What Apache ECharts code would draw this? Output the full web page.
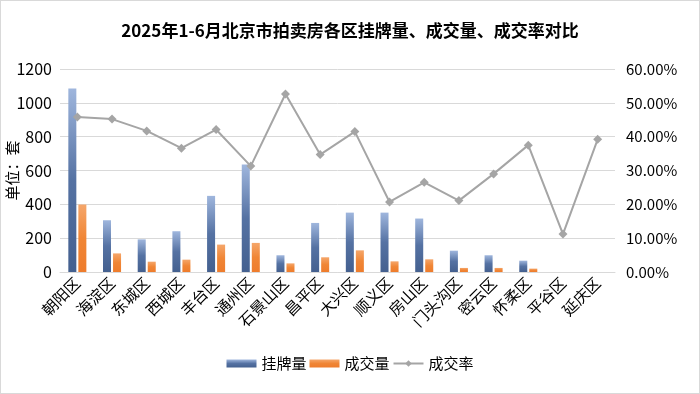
<!DOCTYPE html>
<html><head><meta charset="utf-8">
<script src="https://cdn.jsdelivr.net/npm/echarts@6/dist/echarts.min.js"></script>
<style>html,body{margin:0;padding:0;background:#fff}#c{width:698px;height:392px;border:1px solid #d9d9d9}</style>
</head><body><div id="c"></div>
<script>
const categories = ['朝阳区','海淀区','东城区','西城区','丰台区','通州区','石景山区','昌平区','大兴区','顺义区','房山区','门头沟区','密云区','怀柔区','平谷区','延庆区'];
const listed = [1085,306,193,241,450,635,99,290,351,351,316,126,99,67,0,0];
const sold = [399,110,61,73,162,172,51,87,128,63,75,24,24,20,0,0];
const rate = [45.8,45.2,41.7,36.6,42.1,31.3,52.6,34.7,41.5,20.7,26.5,21.1,29.0,37.5,11.2,39.2];
const leftTicks = [0,200,400,600,800,1000,1200];
const rightTicks = [0,10,20,30,40,50,60];
const title = '2025年1-6月北京市拍卖房各区挂牌量、成交量、成交率对比';

const F = '"Noto Sans CJK SC","Noto Sans",sans-serif';
const chart = echarts.init(document.getElementById('c'));
chart.setOption({
  animation:false,
  textStyle:{fontFamily:F},
  title:{text:title,left:'center',top:16,textStyle:{fontSize:17,fontWeight:'bold',color:'#000',fontFamily:F}},
  grid:{left:59,right:84,top:68,bottom:121,containLabel:false,outerBoundsMode:'none'},
  legend:{bottom:17,left:'center',itemGap:3,itemWidth:30,itemHeight:8,
    textStyle:{fontSize:15,color:'#000',fontFamily:F},
    data:[{name:'挂牌量',icon:'rect'},{name:'成交量',icon:'rect'},{name:'成交率'}]},
  xAxis:{type:'category',data:categories,
    axisLine:{lineStyle:{color:'#d9d9d9',width:1}},axisTick:{show:false},
    axisLabel:{rotate:45,fontSize:15.5,color:'#000',margin:8,interval:0,fontFamily:F}},
  yAxis:[
    {type:'value',min:leftTicks[0],max:leftTicks[leftTicks.length-1],interval:200,
     name:'单位：套',nameLocation:'middle',nameGap:40,nameRotate:90,nameMoveOverlap:false,
     nameTextStyle:{fontSize:15,color:'#000',fontFamily:F},
     axisLabel:{fontSize:16,color:'#000',margin:8,fontFamily:F,formatter:v=>String(v)},
     splitLine:{lineStyle:{color:'#d9d9d9',width:1}},axisLine:{show:false},axisTick:{show:false}},
    {type:'value',min:rightTicks[0],max:rightTicks[rightTicks.length-1],interval:10,
     axisLabel:{fontSize:15,color:'#000',margin:11,fontFamily:F,formatter:v=>v.toFixed(2)+'%'},
     splitLine:{show:false},axisLine:{show:false},axisTick:{show:false}}
  ],
  series:[
    {name:'挂牌量',type:'bar',data:listed,barGap:'25%',barCategoryGap:'48%',
     itemStyle:{color:new echarts.graphic.LinearGradient(0,0,0,1,[{offset:0,color:'#9fb6dd'},{offset:0.5,color:'#5572a3'},{offset:1,color:'#44608f'}])}},
    {name:'成交量',type:'bar',data:sold,
     itemStyle:{color:new echarts.graphic.LinearGradient(0,0,0,1,[{offset:0,color:'#f5a66a'},{offset:0.5,color:'#f08636'},{offset:1,color:'#ee7c2c'}])}},
    {name:'成交率',type:'line',yAxisIndex:1,data:rate,symbol:'diamond',symbolSize:9,
     lineStyle:{color:'#a5a5a5',width:2},itemStyle:{color:'#a5a5a5'}}
  ]
});
</script></body></html>
